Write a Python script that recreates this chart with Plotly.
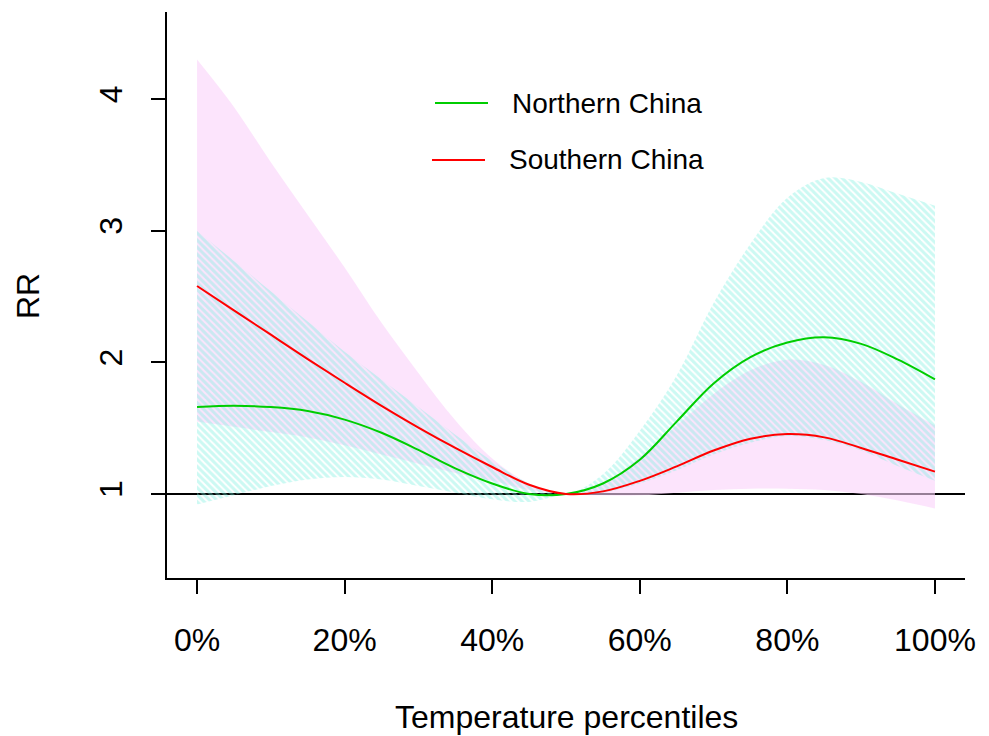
import plotly.graph_objects as go

# ---- data ----
percentiles = [0, 5, 10, 15, 20, 25, 30, 35, 40, 45, 50, 55, 60, 65, 70, 75, 80, 85, 90, 95, 100]
tick_vals = [0, 20, 40, 60, 80, 100]
tick_text = ["0%", "20%", "40%", "60%", "80%", "100%"]
y_ticks = [1, 2, 3, 4]

north_rr = [1.66, 1.67, 1.66, 1.63, 1.565, 1.465, 1.335, 1.195, 1.08, 1.00, 1.00,
            1.08, 1.26, 1.55, 1.84, 2.04, 2.15, 2.19, 2.14, 2.02, 1.87]
north_low = [0.92, 0.99, 1.06, 1.11, 1.13, 1.11, 1.06, 1.01, 0.96, 0.94, 1.00,
             1.01, 1.08, 1.18, 1.30, 1.39, 1.44, 1.41, 1.33, 1.21, 1.10]
north_high = [3.00, 2.77, 2.54, 2.31, 2.08, 1.87, 1.66, 1.45, 1.25, 1.08, 1.00,
              1.15, 1.48, 1.90, 2.45, 2.90, 3.25, 3.40, 3.37, 3.28, 3.19]

south_rr = [2.58, 2.395, 2.21, 2.025, 1.845, 1.67, 1.505, 1.35, 1.205, 1.07, 1.00,
            1.02, 1.10, 1.21, 1.33, 1.42, 1.455, 1.43, 1.35, 1.26, 1.17]
south_low = [1.55, 1.51, 1.47, 1.43, 1.37, 1.30, 1.23, 1.16, 1.10, 1.03, 1.00,
             0.99, 0.99, 1.01, 1.03, 1.04, 1.04, 1.03, 1.00, 0.95, 0.89]
south_high = [4.30, 3.94, 3.52, 3.12, 2.72, 2.30, 1.92, 1.56, 1.27, 1.08, 1.00,
              1.08, 1.28, 1.52, 1.76, 1.94, 2.02, 1.98, 1.85, 1.68, 1.52]

FONT = "Liberation Sans, Arial, Helvetica, sans-serif"
GREEN = "#00CD00"
RED = "#FF0000"

fig = go.Figure()

# reference line at RR = 1 (drawn under the bands, like the original)
fig.add_trace(go.Scatter(x=[-4.07, 104.07], y=[1, 1], mode="lines",
                         line=dict(color="black", width=2.2), hoverinfo="skip",
                         showlegend=False))

# Southern China CI (solid pink)
fig.add_trace(go.Scatter(x=percentiles, y=south_low, mode="lines",
                         line=dict(width=0, shape="spline"), showlegend=False,
                         hoverinfo="skip"))
fig.add_trace(go.Scatter(x=percentiles, y=south_high, mode="lines",
                         line=dict(width=0, shape="spline"), fill="tonexty",
                         fillcolor="rgba(250,210,250,0.6)", showlegend=False,
                         hoverinfo="skip"))

# Northern China CI (hatched aquamarine)
fig.add_trace(go.Scatter(x=percentiles, y=north_low, mode="lines",
                         line=dict(width=0, shape="spline"), showlegend=False,
                         hoverinfo="skip"))
fig.add_trace(go.Scatter(x=percentiles, y=north_high, mode="lines",
                         line=dict(width=0, shape="spline"), fill="tonexty",
                         fillcolor="rgba(0,0,0,0)",
                         fillpattern=dict(shape="\\", size=5, solidity=0.62,
                                          fgcolor="rgba(120,240,222,0.75)",
                                          bgcolor="rgba(0,0,0,0)"),
                         showlegend=False, hoverinfo="skip"))

# central estimates
fig.add_trace(go.Scatter(x=percentiles, y=north_rr, mode="lines",
                         line=dict(color=GREEN, width=2, shape="spline"),
                         name="Northern China", showlegend=False))
fig.add_trace(go.Scatter(x=percentiles, y=south_rr, mode="lines",
                         line=dict(color=RED, width=2, shape="spline"),
                         name="Southern China", showlegend=False))

L, R, T, B = 167, 24, 12, 158
W, H = 989, 736
pw, ph = W - L - R, H - T - B


def px(xp):
    return (xp - L) / pw


def py(yp):
    return (H - B - yp) / ph


# legend drawn by hand to mirror the R legend layout
legend_items = [("Northern China", GREEN, 103, 435, 510),
                ("Southern China", RED, 160, 432, 507)]
for label, col, yy, x0, xt in legend_items:
    fig.add_shape(type="line", xref="paper", yref="paper",
                  x0=px(x0), x1=px(x0 + 53), y0=py(yy), y1=py(yy),
                  line=dict(color=col, width=2))
    fig.add_annotation(xref="paper", yref="paper", x=px(xt), y=py(yy),
                       text=label, showarrow=False, xanchor="left",
                       yanchor="middle", font=dict(family=FONT, size=28, color="black"))

# axis titles
fig.add_annotation(xref="paper", yref="paper", x=px(566), y=py(717),
                   text="Temperature percentiles", showarrow=False,
                   xanchor="center", yanchor="middle",
                   font=dict(family=FONT, size=32, color="black"))
fig.add_annotation(xref="paper", yref="paper", x=px(28), y=py(296),
                   text="RR", showarrow=False, textangle=-90,
                   xanchor="center", yanchor="middle",
                   font=dict(family=FONT, size=32, color="black"))

fig.update_layout(
    width=W, height=H,
    margin=dict(l=L, r=R, t=T, b=B),
    paper_bgcolor="white", plot_bgcolor="white",
    font=dict(family=FONT, size=32, color="black"),
    showlegend=False,
)
fig.update_xaxes(range=[-4.07, 104.07], tickmode="array", tickvals=tick_vals,
                 ticktext=tick_text, ticks="outside", ticklen=14, tickwidth=1.5,
                 tickcolor="black", showline=True, linecolor="black", linewidth=1.5,
                 showgrid=False, zeroline=False, ticklabelstandoff=19,
                 tickfont=dict(family=FONT, size=32, color="black"))
fig.update_yaxes(range=[0.362, 4.661], tickmode="array", tickvals=y_ticks,
                 ticks="outside", ticklen=14, tickwidth=1.5, tickcolor="black",
                 showline=True, linecolor="black", linewidth=1.5, showgrid=False,
                 zeroline=False, tickangle=-90, ticklabelstandoff=16,
                 tickfont=dict(family=FONT, size=32, color="black"))

fig.write_html("out.html")
